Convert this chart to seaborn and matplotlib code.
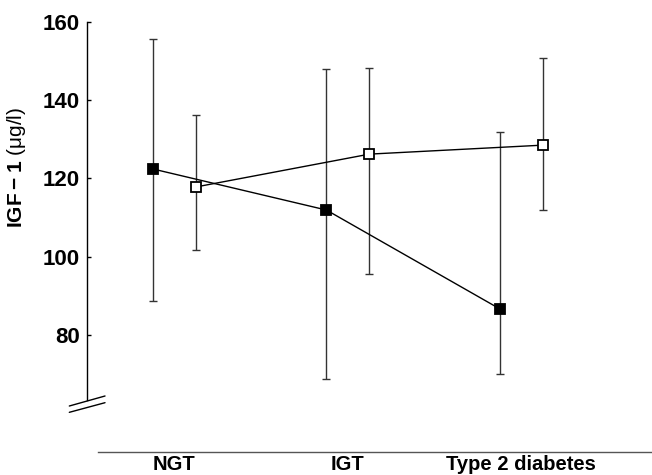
import matplotlib
matplotlib.use("Agg")
import matplotlib.pyplot as plt
import pandas as pd
import seaborn as sns

# values
GROUPS = ["NGT", "IGT", "Type 2 diabetes"]
FILLED_MEAN = [122.4, 111.9, 86.6]
FILLED_UPPER = [155.6, 147.9, 131.8]
FILLED_LOWER = [88.6, 68.6, 69.9]
OPEN_MEAN = [117.8, 126.2, 128.5]
OPEN_UPPER = [136.2, 148.2, 150.8]
OPEN_LOWER = [101.7, 95.5, 111.9]
Y_TICKS = [80, 100, 120, 140, 160]

sns.set_style("ticks", {
    "text.color": "black",
    "axes.labelcolor": "black",
    "axes.edgecolor": "black",
    "xtick.color": "black",
    "ytick.color": "black",
})
plt.rcParams["font.family"] = ["Liberation Sans", "DejaVu Sans"]
plt.rcParams["mathtext.fontset"] = "custom"
plt.rcParams["mathtext.rm"] = "Liberation Sans"
plt.rcParams["mathtext.bf"] = "Liberation Sans:bold"


def build_frame():
    rows = []
    offset = 0.124  # filled series sits left, open series right of the group
    for i, g in enumerate(GROUPS):
        rows.append(dict(series="filled", group=g, pos=i - offset,
                         mean=FILLED_MEAN[i], upper=FILLED_UPPER[i], lower=FILLED_LOWER[i]))
        rows.append(dict(series="open", group=g, pos=i + offset,
                         mean=OPEN_MEAN[i], upper=OPEN_UPPER[i], lower=OPEN_LOWER[i]))
    return pd.DataFrame(rows)


def main():
    df = build_frame()

    fig = plt.figure(figsize=(6.52, 4.75), dpi=100)
    ax = fig.add_axes([87 / 652, 75 / 475, 565 / 652, 378 / 475])

    for name, face in [("filled", "black"), ("open", "white")]:
        sub = df[df["series"] == name]
        ax.errorbar(sub["pos"], sub["mean"],
                    yerr=[sub["mean"] - sub["lower"], sub["upper"] - sub["mean"]],
                    fmt="none", ecolor="#333333", elinewidth=1, capsize=3.2,
                    capthick=1, zorder=1.5)
        sns.lineplot(data=sub, x="pos", y="mean", ax=ax, sort=False,
                     estimator=None, color="black", linewidth=1,
                     marker="s", markersize=7, markerfacecolor=face,
                     markeredgecolor="black", markeredgewidth=1.3, zorder=3)

    ax.set_xlim(-0.504, 2.753)
    ax.set_ylim(63.3, 160)
    ax.set_yticks(Y_TICKS)
    ax.set_xticks(range(len(GROUPS)))
    ax.set_xticklabels(GROUPS)

    sns.despine(ax=ax)
    ax.spines["left"].set_linewidth(1)
    ax.spines["bottom"].set_position(("outward", 37.2))
    ax.spines["bottom"].set_bounds(-0.439, 2.753)
    ax.spines["bottom"].set_color("#555555")
    ax.spines["bottom"].set_linewidth(1)

    ax.tick_params(axis="y", direction="in", length=3, width=1, pad=5, labelsize=16)
    ax.tick_params(axis="x", length=0, pad=2.5, labelsize=14.5)
    for lab in ax.get_yticklabels() + ax.get_xticklabels():
        lab.set_fontweight("bold")

    ax.set_xlabel("")
    ax.set_ylabel(r"$\mathbf{IGF-1}$ (μg/l)", fontsize=15)
    ax.yaxis.set_label_coords(-0.104, 0.616)

    # axis break marks
    for y0, y1 in [(-0.0159, 0.0106), (-0.0326, -0.0071)]:
        ax.plot([-0.0313, 0.0319], [y0, y1], transform=ax.transAxes,
                color="black", linewidth=1, clip_on=False)

    fig.savefig("out.png", dpi=100)
    plt.close(fig)


if __name__ == "__main__":
    main()
